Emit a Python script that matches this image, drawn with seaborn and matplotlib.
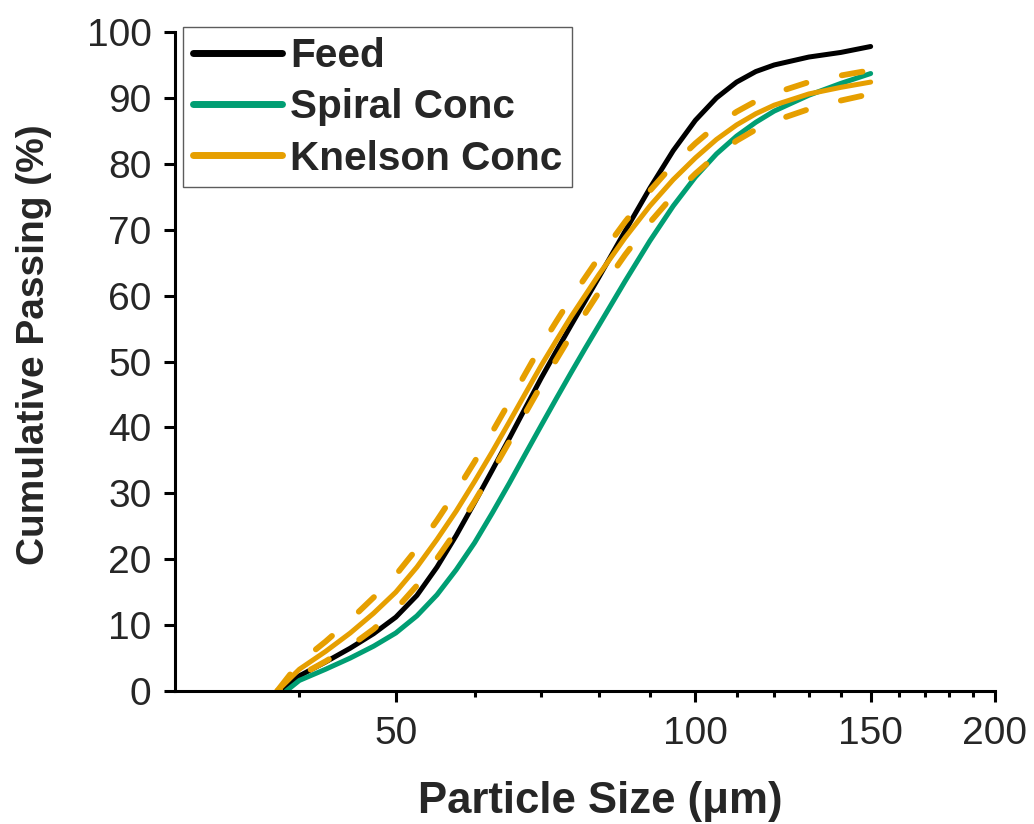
import numpy as np
import pandas as pd
import matplotlib
matplotlib.use("Agg")
import matplotlib.pyplot as plt
from matplotlib.ticker import FixedLocator, NullFormatter
import seaborn as sns

# ---- data ----
feed_size = [38.4, 40, 42.5, 45, 47.5, 50, 52.5, 55, 57.5, 60, 62.5, 65, 67.5, 70, 72.5,
             75, 80, 85, 90, 95, 100, 105, 110, 115, 120, 130, 140, 150]
feed_pass = [0, 2.3, 4.4, 6.5, 8.7, 11.2, 14.5, 18.8, 23.6, 28.6, 33.5, 38.3, 43.0, 47.5, 51.6,
             55.5, 62.8, 69.8, 76.3, 82.0, 86.6, 90.0, 92.4, 94.0, 95.0, 96.2, 96.9, 97.8]

spiral_size = [38.8, 40, 42.5, 45, 47.5, 50, 52.5, 55, 57.5, 60, 62.5, 65, 67.5, 70, 72.5,
               75, 77.5, 80, 85, 90, 95, 100, 105, 110, 115, 120, 130, 140, 150]
spiral_pass = [0, 1.6, 3.3, 5.0, 6.8, 8.8, 11.4, 14.6, 18.4, 22.5, 27.0, 31.5, 36.0, 40.3, 44.4,
               48.3, 52.0, 55.5, 62.2, 68.3, 73.6, 78.0, 81.5, 84.2, 86.3, 88.0, 90.4, 92.2, 93.7]

knelson_size = [38, 40, 42.5, 45, 47.5, 50, 52.5, 55, 57.5, 60, 62.5, 65, 67.5, 70, 72.5,
                75, 80, 85, 90, 95, 100, 105, 110, 115, 120, 130, 140, 150]
knelson_pass = [0, 3.3, 6.0, 8.8, 11.8, 15.0, 18.8, 23.0, 27.3, 31.8, 36.3, 40.8, 45.2, 49.4, 53.2,
                56.8, 63.2, 68.8, 73.6, 77.6, 80.9, 83.7, 85.9, 87.6, 88.9, 90.6, 91.6, 92.4]
knelson_upper = [0, 4.3, 7.5, 10.8, 14.2, 17.6, 21.6, 25.9, 30.3, 34.8, 39.3, 43.8, 48.2, 52.4, 56.1,
                 59.6, 65.8, 71.2, 75.9, 79.9, 83.1, 85.8, 87.9, 89.5, 90.7, 92.4, 93.4, 94.2]
knelson_lower = [0, 2.3, 4.5, 6.8, 9.4, 12.4, 16.0, 20.1, 24.3, 28.8, 33.3, 37.8, 42.2, 46.4, 50.3,
                 54.0, 60.5, 66.2, 71.1, 75.2, 78.5, 81.3, 83.5, 85.2, 86.5, 88.3, 89.6, 90.6]

series_names = ["Feed", "Spiral Conc", "Knelson Conc"]
series_colors = ["#000000", "#009E73", "#E69F00"]

x_major = [50, 100, 150, 200]
x_minor = [40, 60, 70, 80, 90, 110, 120, 130, 140, 160, 170, 180, 190]
y_ticks = list(range(0, 101, 10))

# ---- style ----
sns.set_style("ticks")
plt.rcParams["font.family"] = ["Liberation Sans", "DejaVu Sans"]

fig = plt.figure(figsize=(10.34, 8.24), dpi=100)
ax = fig.add_axes([175 / 1034, 1 - 691 / 824, 820 / 1034, 659 / 824])

lw_solid = 3.6
lw_dash = 4.2

df_feed = pd.DataFrame({"size": feed_size, "passing": feed_pass})
df_spiral = pd.DataFrame({"size": spiral_size, "passing": spiral_pass})
df_kn = pd.DataFrame({"size": knelson_size, "passing": knelson_pass,
                      "upper": knelson_upper, "lower": knelson_lower})

sns.lineplot(data=df_feed, x="size", y="passing", ax=ax, color=series_colors[0],
             linewidth=lw_solid, label=series_names[0], solid_capstyle="round")
sns.lineplot(data=df_spiral, x="size", y="passing", ax=ax, color=series_colors[1],
             linewidth=lw_solid, label=series_names[1], solid_capstyle="round")
sns.lineplot(data=df_kn, x="size", y="passing", ax=ax, color=series_colors[2],
             linewidth=lw_solid, label=series_names[2], solid_capstyle="round")
for col, offset in (("upper", 0.0), ("lower", 3.0)):
    sns.lineplot(data=df_kn, x="size", y=col, ax=ax, color=series_colors[2],
                 linewidth=lw_dash, legend=False)
    ln = ax.lines[-1]
    ln.set_linestyle((offset, (3.6, 6.2)))
    ln.set_dash_capstyle("round")

ax.set_xscale("log")
ax.set_xlim(30, 200)
ax.set_ylim(0, 100)

ax.xaxis.set_major_locator(FixedLocator(x_major))
ax.xaxis.set_minor_locator(FixedLocator(x_minor))
ax.xaxis.set_minor_formatter(NullFormatter())
ax.set_xticklabels([str(v) for v in x_major])
ax.set_yticks(y_ticks)
ax.set_yticklabels([str(v) for v in y_ticks])

for sp in ["top", "right"]:
    ax.spines[sp].set_visible(False)
for sp in ["left", "bottom"]:
    ax.spines[sp].set_linewidth(2.2)
    ax.spines[sp].set_color("black")

ax.tick_params(axis="both", which="major", direction="out", length=8, width=2.2,
               color="black")
ax.tick_params(axis="x", which="minor", direction="out", length=4.5, width=2.2,
               color="black")
ax.tick_params(axis="y", labelsize=28, pad=9)
ax.tick_params(axis="x", labelsize=28, pad=10)

ax.set_xlabel("Particle Size (\u03bcm)", fontsize=31.5, fontweight="bold")
ax.set_ylabel("Cumulative Passing (%)", fontsize=28, fontweight="bold")
ax.xaxis.set_label_coords((600 - 175) / 820, (691 - 781) / 659)
ax.yaxis.set_label_coords((52 - 175) / 820, (691 - 345) / 659)

leg = ax.legend(loc="upper left", bbox_to_anchor=(183 / 1034, 1 - 27 / 824),
                bbox_transform=fig.transFigure, borderaxespad=0,
                prop={"weight": "bold", "size": 29.2}, frameon=True, fancybox=False,
                handlelength=2.2, handletextpad=0.2, labelspacing=0.33,
                borderpad=0.24)
leg.get_frame().set_edgecolor("#333333")
leg.get_frame().set_linewidth(1.0)
for h in leg.get_lines():
    h.set_linewidth(5)
    h.set_linestyle("-")

fig.savefig("out.png", dpi=100)
